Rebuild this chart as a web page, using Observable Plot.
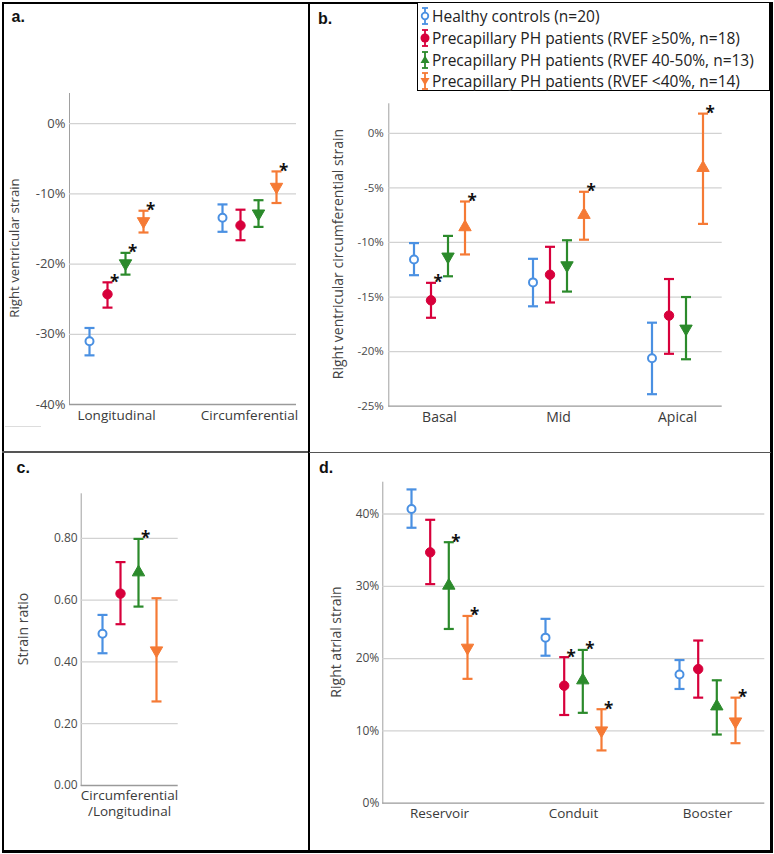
<!DOCTYPE html>
<html><head><meta charset="utf-8">
<script src="https://cdn.jsdelivr.net/npm/d3@7"></script>
<script src="https://cdn.jsdelivr.net/npm/@observablehq/plot@0.6"></script>
<style>
body{margin:0;background:#fff;}
#fig{position:relative;width:774px;height:854px;background:#fff;font-family:"Open Sans",sans-serif;overflow:hidden}
.ln{position:absolute;background:#000}
.plab{position:absolute;font-family:"Liberation Sans",Arial,sans-serif;font-weight:bold;font-size:16px;color:#111;line-height:1}
.ytitle{position:absolute;white-space:nowrap;color:#444;transform:translate(-50%,-50%) rotate(-90deg);font-size:14px;line-height:1}
#legend{position:absolute;left:417px;top:2px;width:351px;height:87px;border:1.5px solid #000;background:#fff;font-size:15.5px;color:#222}
.lrow{position:absolute;left:0;height:22px;display:flex;align-items:center;white-space:nowrap}
.lrow svg{margin-left:1px;margin-right:1px}
</style></head><body><div id="fig"></div><script>
// ---------- data ----------
const groups = ["Healthy controls (n=20)", "Precapillary PH patients (RVEF \u226550%, n=18)", "Precapillary PH patients (RVEF 40-50%, n=13)", "Precapillary PH patients (RVEF <40%, n=14)"];
const groupColors = ["#4a90e2", "#d7003b", "#2b8a2b", "#f57a35"];

// panel a: right ventricular strain (%)
const aCategories = ["Longitudinal", "Circumferential"];
const aMean = [[-31.0, -13.4], [-24.3, -14.5], [-19.9, -12.8], [-13.9, -9.0]];
const aLow = [[-33.0, -15.4], [-26.2, -16.6], [-21.5, -14.7], [-15.5, -11.3]];
const aHigh = [[-29.1, -11.5], [-22.6, -12.25], [-18.4, -10.9], [-12.4, -6.8]];
const aStar = [[0, 0], [1, 0], [1, 0], [1, 1]];
const aDown = [[0, 0], [0, 0], [1, 1], [1, 1]];
const aTicks = [-40, -30, -20, -10, 0];

// panel b: right ventricular circumferential strain (%)
const bCategories = ["Basal", "Mid", "Apical"];
const bMean = [[-11.56, -13.66, -20.6], [-15.3, -12.96, -16.7], [-11.3, -12.1, -17.9], [-8.6, -7.47, -3.17]];
const bLow = [[-13.0, -15.85, -23.9], [-16.9, -15.5, -20.2], [-13.1, -14.5, -20.7], [-11.1, -9.75, -8.3]];
const bHigh = [[-10.06, -11.5, -17.35], [-13.7, -10.4, -13.35], [-9.4, -9.8, -15.0], [-6.25, -5.36, 1.8]];
const bStar = [[0, 0, 0], [1, 0, 0], [0, 0, 0], [1, 1, 1]];
const bDown = [[0, 0, 0], [0, 0, 0], [1, 1, 1], [0, 0, 0]];
const bTicks = [-25, -20, -15, -10, -5, 0];

// panel c: strain ratio
const cCategories = ["Circumferential\n/Longitudinal"];
const cMean = [[0.491], [0.621], [0.69], [0.437]];
const cLow = [[0.428], [0.522], [0.579], [0.272]];
const cHigh = [[0.552], [0.723], [0.798], [0.606]];
const cStar = [[0], [0], [1], [0]];
const cDown = [[0], [0], [0], [1]];
const cTicks = [0, 0.2, 0.4, 0.6, 0.8];

// panel d: right atrial strain (%)
const dCategories = ["Reservoir", "Conduit", "Booster"];
const dMean = [[40.7, 22.9, 17.8], [34.7, 16.25, 18.55], [30.1, 17.0, 13.4], [21.5, 10.06, 11.3]];
const dLow = [[38.1, 20.4, 15.8], [30.3, 12.2, 14.6], [24.1, 12.5, 9.5], [17.2, 7.3, 8.3]];
const dHigh = [[43.4, 25.5, 19.8], [39.2, 20.2, 22.5], [36.1, 21.2, 17.0], [25.9, 13.0, 14.6]];
const dStar = [[0, 0, 0], [0, 1, 0], [1, 1, 0], [1, 1, 1]];
const dDown = [[0, 0, 0], [0, 0, 0], [0, 0, 0], [1, 1, 1]];
const dTicks = [0, 10, 20, 30, 40];

// ---------- drawing ----------
const fig = document.getElementById("fig");
const capSymbol = {draw(ctx, size) { const r = Math.sqrt(size / Math.PI); ctx.moveTo(-r, 0); ctx.lineTo(r, 0); }};

function markerStyle(gi) {
  if (gi === 0) return {symbol: "circle", r: 4, fill: "white", stroke: groupColors[0], strokeWidth: 2};
  if (gi === 1) return {symbol: "circle", r: 4.7, fill: groupColors[1], stroke: groupColors[1], strokeWidth: 1};
  return {symbol: "triangle", r: 4.6, fill: groupColors[gi], stroke: groupColors[gi], strokeWidth: 1};
}

function buildPanel(cfg) {
  const marks = [
    Plot.ruleY(cfg.ticks.slice(1), {stroke: "#d2d2d2", strokeWidth: 1.3}),
    Plot.ruleY([cfg.ticks[0]], {stroke: "#9a9a9a", strokeWidth: 1.3})
  ];
  groups.forEach((g, gi) => {
    const rows = cfg.cats.map((c, ci) => ({cat: c, mean: cfg.mean[gi][ci], lo: cfg.low[gi][ci], hi: cfg.high[gi][ci], star: cfg.star[gi][ci], down: cfg.down[gi][ci]}));
    const color = groupColors[gi];
    const dx = cfg.offsets[gi];
    marks.push(Plot.ruleX(rows, {x: "cat", y1: "lo", y2: "hi", stroke: color, strokeWidth: 2.2, dx}));
    marks.push(Plot.dot(rows, {x: "cat", y: "lo", symbol: capSymbol, r: 5, fill: "none", stroke: color, strokeWidth: 2.2, dx}));
    marks.push(Plot.dot(rows, {x: "cat", y: "hi", symbol: capSymbol, r: 5, fill: "none", stroke: color, strokeWidth: 2.2, dx}));
    marks.push(Plot.dot(rows, {x: "cat", y: "mean", rotate: d => d.down ? 180 : 0, dx, ...markerStyle(gi)}));
    marks.push(Plot.text(rows.filter(d => d.star), {x: "cat", y: "hi", text: () => "*", dx: dx + 7, dy: 0, fontSize: 17, fontWeight: "bold", fill: "#111", lineAnchor: "middle"}));
  });
  marks.push(Plot.text(cfg.cats, {x: d => d, frameAnchor: "bottom", lineAnchor: "top", dy: cfg.catDy, fontSize: cfg.catFont, fill: "#3a3a3a", lineHeight: 1.2}));
  const svg = Plot.plot({
    width: cfg.width, height: cfg.height,
    marginLeft: cfg.m[0], marginRight: cfg.m[1], marginTop: cfg.m[2], marginBottom: cfg.m[3],
    style: {background: "transparent", overflow: "visible", fontFamily: "Open Sans", fontSize: cfg.tickFont + "px", color: "#a0a0a0"},
    x: {type: "point", domain: cfg.cats, padding: cfg.padding, align: cfg.align, axis: null},
    y: {domain: cfg.domain, ticks: cfg.ticks, tickFormat: cfg.fmt, tickSize: 0, tickPadding: cfg.tickPadding, line: true, label: null},
    marks
  });
  d3.select(svg).selectAll('g[aria-label^="y-axis"] text').attr("fill", "#4a4a4a");
  svg.style.position = "absolute";
  svg.style.left = cfg.left + "px";
  svg.style.top = cfg.top + "px";
  fig.appendChild(svg);
}

const pct = d => `${d}%`;
buildPanel({cats: aCategories, mean: aMean, low: aLow, high: aHigh, star: aStar, down: aDown, ticks: aTicks,
  domain: [-40, 4.3], fmt: pct, left: 4, top: 4, width: 302, height: 445, m: [65, 10, 89, 45],
  padding: 0.35, align: 0.5, offsets: [-27, -9, 9, 27], tickFont: 13, tickPadding: 4, catFont: 13.5, catDy: 4});
buildPanel({cats: bCategories, mean: bMean, low: bLow, high: bHigh, star: bStar, down: bDown, ticks: bTicks,
  domain: [-25, 2.7], fmt: pct, left: 311, top: 93, width: 460, height: 357, m: [77.3, 49.3, 10.3, 44.3],
  padding: 0.4, align: 0.53, offsets: [-25.5, -8.5, 8.5, 25.5], tickFont: 11.5, tickPadding: 5, catFont: 14, catDy: 4});
buildPanel({cats: cCategories, mean: cMean, low: cLow, high: cHigh, star: cStar, down: cDown, ticks: cTicks,
  domain: [0, 0.944], fmt: d => d.toFixed(2), left: 4, top: 453, width: 302, height: 397, m: [76.7, 128.3, 40.3, 65],
  padding: 0.5, align: 0.5, offsets: [-27, -9, 9, 27], tickFont: 12, tickPadding: 3.5, catFont: 13.5, catDy: 3});
buildPanel({cats: dCategories, mean: dMean, low: dLow, high: dHigh, star: dStar, down: dDown, ticks: dTicks,
  domain: [0, 44.4], fmt: pct, left: 311, top: 453, width: 460, height: 397, m: [71.3, 6.7, 28.7, 47.3],
  padding: 0.42, align: 0.5, offsets: [-28, -9.3, 9.3, 28], tickFont: 12, tickPadding: 3.5, catFont: 13.5, catDy: 3});

// y-axis titles
[["Right ventricular strain", 15, 248, 13.2], ["Right ventricular circumferential strain", 338, 254, 14],
 ["Strain ratio", 22.5, 628.5, 14], ["Right atrial strain", 336.3, 641.7, 14]].forEach(([t, x, y, fs]) => {
  const el = document.createElement("div");
  el.className = "ytitle"; el.textContent = t;
  el.style.left = x + "px"; el.style.top = y + "px"; el.style.fontSize = fs + "px";
  fig.appendChild(el);
});

// panel borders
[[2, 2, 770.5, 2.2, "#000"], [2, 2, 2.2, 850, "#000"], [770, 2, 2.5, 850.5, "#000"], [2, 850, 770.5, 2.5, "#000"],
 [307.5, 2, 2.8, 850, "#000"], [2, 451, 306, 1.6, "#555"], [309, 451.6, 462, 1.6, "#555"], [5, 426, 36, 1, "#ddd"]]
 .forEach(([x, y, w, h, c]) => {
  const el = document.createElement("div");
  el.className = "ln";
  Object.assign(el.style, {left: x + "px", top: y + "px", width: w + "px", height: h + "px", background: c});
  fig.appendChild(el);
});

// panel labels
[["a.", 11.5, 9], ["b.", 318, 11], ["c.", 16.5, 460], ["d.", 319, 460]].forEach(([t, x, y]) => {
  const el = document.createElement("div");
  el.className = "plab"; el.textContent = t;
  el.style.left = x + "px"; el.style.top = y + "px";
  fig.appendChild(el);
});

// legend
const legend = document.createElement("div");
legend.id = "legend";
groups.forEach((g, gi) => {
  const row = document.createElement("div");
  row.className = "lrow";
  row.style.top = (2 + gi * 21.8) + "px";
  const c = groupColors[gi];
  let marker;
  if (gi === 0) marker = `<circle cx="6" cy="10" r="3.3" fill="white" stroke="${c}" stroke-width="1.8"/>`;
  else if (gi === 1) marker = `<circle cx="6" cy="10" r="4.5" fill="${c}"/>`;
  else if (gi === 2) marker = `<path d="M6,5.5L10.5,13H1.5Z" fill="${c}"/>`;
  else marker = `<path d="M6,14.5L10.5,7H1.5Z" fill="${c}"/>`;
  row.innerHTML = `<svg width="12" height="20" viewBox="0 0 12 20"><g stroke="${c}" stroke-width="1.8" fill="none"><line x1="6" y1="2" x2="6" y2="18"/><line x1="3" y1="2" x2="9" y2="2"/><line x1="3" y1="18" x2="9" y2="18"/></g>${marker}</svg><span>${g}</span>`;
  legend.appendChild(row);
});
fig.appendChild(legend);
</script></body></html>
